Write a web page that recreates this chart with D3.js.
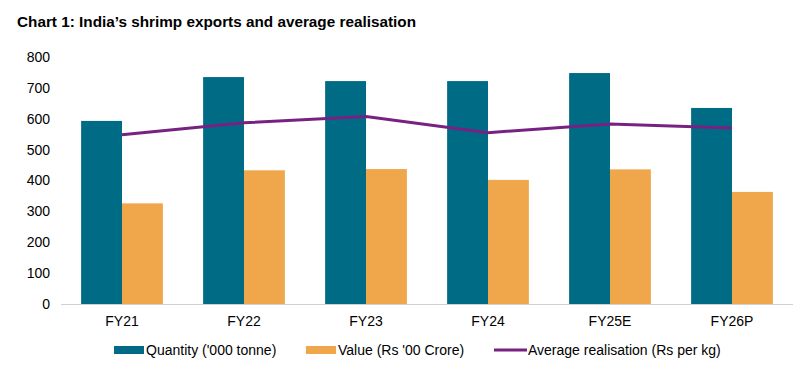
<!DOCTYPE html>
<html><head><meta charset="utf-8">
<script src="https://cdn.jsdelivr.net/npm/d3@7"></script>
<style>body{margin:0;background:#fff}svg{display:block;font-family:"Liberation Sans",Arial,sans-serif}</style>
</head><body><svg id="c" width="809" height="380"></svg>
<script>
const categories = ["FY21","FY22","FY23","FY24","FY25E","FY26P"];
const quantity = [593, 735, 722, 722, 748, 635];
const value = [326, 433, 437, 402, 436, 363];
const realisation = [548, 587, 607, 555, 583, 570];
const yTicks = [0,100,200,300,400,500,600,700,800];
const seriesNames = ["Quantity ('000 tonne)", "Value (Rs '00 Crore)", "Average realisation (Rs per kg)"];
const colors = {q:"#006B84", v:"#F0A64A", r:"#772283"};

const svg = d3.select("#c");
const m = {l:61, r:16, t:57, b:76};
const W = 809, H = 380;
const x = d3.scaleBand().domain(categories).range([m.l, W-m.r]).paddingInner(0.33).paddingOuter(0.165);
const xc = d3.scaleBand().domain(categories).range([m.l, W-m.r]);
const y = d3.scaleLinear().domain([0,800]).range([H-m.b, m.t]);
const half = x.bandwidth()/2;

svg.append("text").attr("x",17).attr("y",27).attr("font-weight","bold").attr("font-size",15.3).attr("fill","#000")
  .text("Chart 1: India\u2019s shrimp exports and average realisation");

// y axis labels
svg.append("g").selectAll("text").data(yTicks).join("text")
  .attr("x",50).attr("y",d=>y(d)).attr("dy","0.35em").attr("text-anchor","end")
  .attr("font-size",14).attr("fill","#000").text(d=>d);

const g = svg.append("g");
g.selectAll(".q").data(categories).join("rect")
  .attr("x",d=>xc(d)+xc.bandwidth()/2-half).attr("width",half)
  .attr("y",(d,i)=>y(quantity[i])).attr("height",(d,i)=>y(0)-y(quantity[i])).attr("fill",colors.q);
g.selectAll(".v").data(categories).join("rect")
  .attr("x",d=>xc(d)+xc.bandwidth()/2).attr("width",half)
  .attr("y",(d,i)=>y(value[i])).attr("height",(d,i)=>y(0)-y(value[i])).attr("fill",colors.v);

// axis line
svg.append("line").attr("x1",m.l).attr("x2",W-m.r).attr("y1",y(0)+0.5).attr("y2",y(0)+0.5)
  .attr("stroke","#d0d0d0").attr("stroke-width",1);

const line = d3.line().x((d,i)=>xc(categories[i])+xc.bandwidth()/2).y(d=>y(d));
svg.append("path").datum(realisation).attr("d",line).attr("fill","none")
  .attr("stroke",colors.r).attr("stroke-width",3);

// x labels
svg.append("g").selectAll("text").data(categories).join("text")
  .attr("x",d=>xc(d)+xc.bandwidth()/2).attr("y",326).attr("text-anchor","middle")
  .attr("font-size",14).attr("fill","#000").text(d=>d);

// legend
const leg = svg.append("g").attr("font-size",14).attr("fill","#000");
leg.append("rect").attr("x",114).attr("y",346).attr("width",30).attr("height",8).attr("fill",colors.q);
leg.append("text").attr("x",146).attr("y",355).text(seriesNames[0]);
leg.append("rect").attr("x",306).attr("y",346).attr("width",30).attr("height",8).attr("fill",colors.v);
leg.append("text").attr("x",338).attr("y",355).text(seriesNames[1]);
leg.append("line").attr("x1",494).attr("x2",527).attr("y1",350).attr("y2",350).attr("stroke",colors.r).attr("stroke-width",3);
leg.append("text").attr("x",528).attr("y",355).text(seriesNames[2]);
</script></body></html>
